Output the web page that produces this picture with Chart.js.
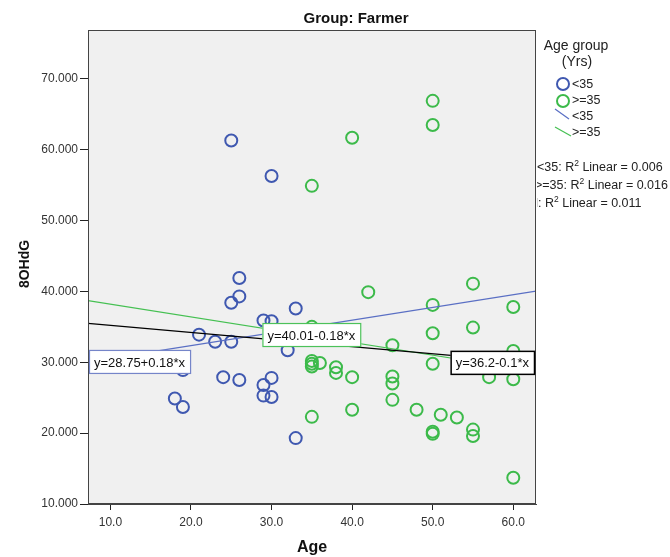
<!DOCTYPE html>
<html lang="en">
<head>
    <meta charset="UTF-8">
    <title>Group: Farmer</title>
    <script src="https://cdn.jsdelivr.net/npm/chart.js"></script>
    <style>
        body { margin: 0; background: #fff; }
        canvas { display: block; }
    </style>
</head>
<body>
    <canvas id="scatterChart" width="670" height="557"></canvas>

    <script>
        // values
        const youngAge   = [25, 30, 26, 26, 25, 33, 29, 30, 21, 23, 25, 32, 19, 24, 26, 30, 29, 29, 30, 18, 19, 33];
        const youngOhdg  = [61.3, 56.3, 41.9, 39.3, 38.4, 37.6, 35.9, 35.8, 33.9, 32.9, 32.9, 31.7, 28.9, 27.9, 27.5, 27.8, 26.8, 25.3, 25.1, 24.9, 23.7, 19.3];

        const oldAge  = [35, 50, 50, 40, 55, 42, 50, 60, 55, 50, 35, 45, 60, 35, 35, 35, 36, 50, 38, 38, 40, 45, 45, 57, 60, 45, 48, 40, 51, 53, 50, 50, 55, 55, 35, 60];
        const oldOhdg = [54.9, 66.9, 63.5, 61.7, 41.1, 39.9, 38.1, 37.8, 34.9, 34.1, 35.0, 32.4, 31.6, 30.2, 29.8, 29.4, 29.9, 29.8, 29.3, 28.5, 27.9, 28.0, 27.0, 27.9, 27.6, 24.7, 23.3, 23.3, 22.6, 22.2, 20.2, 19.9, 20.5, 19.6, 22.3, 13.7];

        // fit lines, ends at the axis limits
        const fitAge        = [7.22, 62.82];
        const youngFitOhdg  = [30.05, 40.06];
        const oldFitOhdg    = [38.71, 28.70];
        const totalFitOhdg  = [35.48, 29.92];

        const xTicks = [10, 20, 30, 40, 50, 60];
        const yTicks = [10, 20, 30, 40, 50, 60, 70];

        const blue = '#3f58b0';
        const green = '#3cba4a';
        const font = "'Liberation Sans', Arial, sans-serif";

        function pts(xs, ys) {
            return xs.map((x, i) => ({ x: x, y: ys[i] }));
        }

        // draws background, frame, titles, legend and the equation boxes
        const decorPlugin = {
            id: 'decor',
            beforeDraw(chart) {
                const ctx = chart.ctx;
                const a = chart.chartArea;
                ctx.save();
                ctx.fillStyle = '#fff';
                ctx.fillRect(0, 0, chart.width, chart.height);

                // R² lines sit partly behind the plot frame
                ctx.fillStyle = '#222';
                ctx.textBaseline = 'middle';
                ctx.textAlign = 'left';
                ctx.save();
                ctx.beginPath();
                ctx.rect(a.right + 1, 0, chart.width, chart.height);
                ctx.clip();
                // [prefix, rest, y, where the prefix ends]
                const rows = [['<35: R', ' Linear = 0.006', 168, 0], ['>=35: R', ' Linear = 0.016', 186, 0], ['Total: R', ' Linear = 0.011', 204, 0]];
                const lefts = [537, 535, null];
                rows.forEach((r, i) => {
                    ctx.font = '12.5px ' + font;
                    const w1 = ctx.measureText(r[0]).width;
                    let x = lefts[i];
                    if (x === null) x = 538 - ctx.measureText('Total').width;
                    ctx.fillText(r[0], x, r[2]);
                    ctx.font = '8.5px ' + font;
                    const w2 = ctx.measureText('2').width;
                    ctx.fillText('2', x + w1, r[2] - 4);
                    ctx.font = '12.5px ' + font;
                    ctx.fillText(r[1], x + w1 + w2, r[2]);
                });
                ctx.restore();

                ctx.fillStyle = '#f0f0f0';
                ctx.fillRect(a.left, a.top, a.right - a.left, a.bottom - a.top);
                ctx.restore();
            },
            afterDatasetsDraw(chart) {
                const ctx = chart.ctx;
                const xs = chart.scales.x, ys = chart.scales.y;
                const a = chart.chartArea;

                function lineAt(vals, age) {
                    const t = (age - fitAge[0]) / (fitAge[1] - fitAge[0]);
                    return vals[0] + t * (vals[1] - vals[0]);
                }
                function box(text, px, py, align, stroke, lw) {
                    ctx.font = '13px ' + font;
                    const w = ctx.measureText(text).width + 11;
                    const h = 24;
                    let x0 = px;
                    if (align === 'center') x0 = px - w / 2;
                    if (align === 'right') x0 = px - w;
                    ctx.fillStyle = '#fff';
                    ctx.fillRect(x0, py - h / 2, w, h);
                    ctx.strokeStyle = stroke;
                    ctx.lineWidth = lw;
                    ctx.strokeRect(x0 + 0.5, py - h / 2 + 0.5, w - 1, h - 1);
                    ctx.fillStyle = '#111';
                    ctx.textAlign = 'left';
                    ctx.textBaseline = 'middle';
                    ctx.fillText(text, x0 + 5, py + 1);
                }

                ctx.save();
                // frame
                ctx.strokeStyle = '#444';
                ctx.lineWidth = 1;
                ctx.strokeRect(a.left + 0.5, a.top + 0.5, a.right - a.left - 1, a.bottom - a.top - 1);

                box('y=28.75+0.18*x', a.left + 1, ys.getPixelForValue(lineAt(youngFitOhdg, fitAge[0])), 'left', '#7585c9', 1.2);
                box('y=40.01-0.18*x', xs.getPixelForValue(35), ys.getPixelForValue(lineAt(oldFitOhdg, 35)) - 1, 'center', '#4cc25a', 1.2);
                box('y=36.2-0.1*x', a.right - 1, ys.getPixelForValue(lineAt(totalFitOhdg, fitAge[1])), 'right', '#000', 1.5);

                // titles
                ctx.fillStyle = '#111';
                ctx.textAlign = 'center';
                ctx.textBaseline = 'middle';
                ctx.font = 'bold 15px ' + font;
                ctx.fillText('Group: Farmer', 356, 19);
                ctx.font = 'bold 16px ' + font;
                ctx.fillText('Age', (a.left + a.right) / 2, 548);
                ctx.save();
                ctx.translate(25, 264);
                ctx.rotate(-Math.PI / 2);
                ctx.font = 'bold 14px ' + font;
                ctx.fillText('8OHdG', 0, 0);
                ctx.restore();

                // legend
                ctx.font = '14px ' + font;
                ctx.fillStyle = '#222';
                ctx.fillText('Age group', 576, 46);
                ctx.fillText('(Yrs)', 577, 62);
                ctx.lineWidth = 2;
                ctx.strokeStyle = blue;
                ctx.beginPath(); ctx.arc(563, 84, 6, 0, Math.PI * 2); ctx.stroke();
                ctx.strokeStyle = green;
                ctx.beginPath(); ctx.arc(563, 101, 6, 0, Math.PI * 2); ctx.stroke();
                ctx.lineWidth = 1.2;
                ctx.strokeStyle = '#5a6fc4';
                ctx.beginPath(); ctx.moveTo(555, 109); ctx.lineTo(569, 119); ctx.stroke();
                ctx.strokeStyle = '#45c052';
                ctx.beginPath(); ctx.moveTo(555, 127); ctx.lineTo(571, 136); ctx.stroke();
                ctx.font = '12.5px ' + font;
                ctx.textAlign = 'left';
                ctx.fillStyle = '#222';
                ctx.fillText('<35', 572, 85);
                ctx.fillText('>=35', 572, 101);
                ctx.fillText('<35', 572, 117);
                ctx.fillText('>=35', 572, 133);
                ctx.restore();
            }
        };

        const ctx = document.getElementById('scatterChart').getContext('2d');
        new Chart(ctx, {
            type: 'scatter',
            data: {
                datasets: [
                    {
                        label: 'Total fit',
                        type: 'line',
                        data: pts(fitAge, totalFitOhdg),
                        borderColor: '#000',
                        borderWidth: 1.2,
                        pointRadius: 0,
                        fill: false
                    },
                    {
                        label: '>=35 fit',
                        type: 'line',
                        data: pts(fitAge, oldFitOhdg),
                        borderColor: '#45c052',
                        borderWidth: 1.2,
                        pointRadius: 0,
                        fill: false
                    },
                    {
                        label: '<35 fit',
                        type: 'line',
                        data: pts(fitAge, youngFitOhdg),
                        borderColor: '#5a6fc4',
                        borderWidth: 1.2,
                        pointRadius: 0,
                        fill: false
                    },
                    {
                        label: '>=35',
                        data: pts(oldAge, oldOhdg),
                        borderColor: green,
                        backgroundColor: 'rgba(0,0,0,0)',
                        borderWidth: 2,
                        pointRadius: 6
                    },
                    {
                        label: '<35',
                        data: pts(youngAge, youngOhdg),
                        borderColor: blue,
                        backgroundColor: 'rgba(0,0,0,0)',
                        borderWidth: 2,
                        pointRadius: 6
                    }
                ]
            },
            options: {
                responsive: false,
                animation: false,
                devicePixelRatio: 1,
                layout: { padding: { left: 0, top: 30, right: 134, bottom: 0 } },
                plugins: {
                    legend: { display: false },
                    title: { display: false },
                    tooltip: { enabled: false }
                },
                scales: {
                    x: {
                        type: 'linear',
                        min: fitAge[0],
                        max: fitAge[1],
                        afterFit: s => { s.height = 53; },
                        afterBuildTicks: s => { s.ticks = xTicks.map(v => ({ value: v })); },
                        grid: { drawOnChartArea: false, drawTicks: true, tickLength: 6, color: '#222' },
                        border: { display: true, color: '#444' },
                        ticks: {
                            padding: 5,
                            color: '#333',
                            font: { family: font, size: 12 },
                            maxRotation: 0,
                            callback: v => Number(v).toFixed(1)
                        }
                    },
                    y: {
                        type: 'linear',
                        min: 10,
                        max: 76.9,
                        afterFit: s => { s.width = 88; },
                        afterBuildTicks: s => { s.ticks = yTicks.map(v => ({ value: v })); },
                        grid: { drawOnChartArea: false, drawTicks: true, tickLength: 8, color: '#222' },
                        border: { display: true, color: '#444' },
                        ticks: {
                            padding: 2,
                            color: '#333',
                            font: { family: font, size: 12 },
                            callback: v => Number(v).toFixed(3)
                        }
                    }
                }
            },
            plugins: [decorPlugin]
        });
    </script>
</body>
</html>
